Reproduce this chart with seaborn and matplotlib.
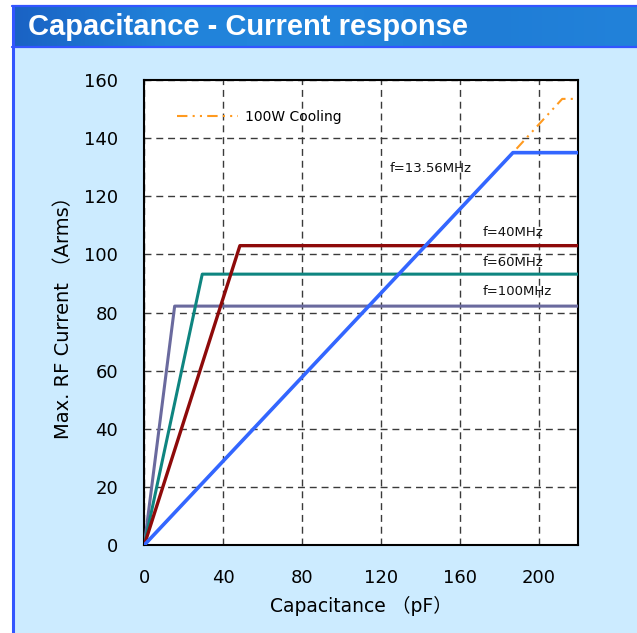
import numpy as np
import pandas as pd
import matplotlib
matplotlib.use("Agg")
import matplotlib.pyplot as plt
import seaborn as sns
from matplotlib.patches import Rectangle
from matplotlib.colors import LinearSegmentedColormap

# ---- data ----
cap_cooling = [0, 187, 212, 220]
cur_cooling = [0, 135, 153.5, 153.5]
cap_1356 = [0, 187, 220]
cur_1356 = [0, 135, 135]
cap_40 = [0, 48.5, 220]
cur_40 = [0, 103, 103]
cap_60 = [0, 29.4, 220]
cur_60 = [0, 93.2, 93.2]
cap_100 = [0, 15.4, 220]
cur_100 = [0, 82.2, 82.2]

series_labels = ["f=13.56MHz", "f=40MHz", "f=60MHz", "f=100MHz"]
label_x = [124.4, 171.6, 171.6, 171.6]
label_y = [129.4, 107.5, 97.2, 87.2]
legend_label = "100W Cooling"
x_ticks = [0, 40, 80, 120, 160, 200]
y_ticks = [0, 20, 40, 60, 80, 100, 120, 140, 160]
title = "Capacitance - Current response"
x_label = "Capacitance （pF）"
y_label = "Max. RF Current （Arms）"

sns.set_style("white")
plt.rcParams['font.family'] = ['DejaVu Sans', 'Noto Sans CJK JP']
plt.rcParams['text.color'] = 'black'
plt.rcParams['axes.labelcolor'] = 'black'

W, H = 637, 633
fig = plt.figure(figsize=(W / 100, H / 100), dpi=100)
fig.patch.set_facecolor("white")

# ---- background decoration ----
bg = fig.add_axes([0, 0, 1, 1], zorder=-10)
bg.axis("off")
bg.add_patch(Rectangle((13, 47), W - 13, H - 47, facecolor="#CCEBFF", edgecolor="none"))
cmap = LinearSegmentedColormap.from_list("hdr", ["#1A62C4", "#2183DA", "#2385DC", "#1F7DD6", "#2282DA"])
grad = np.linspace(0, 1, 256).reshape(1, -1)
bg.imshow(grad, extent=[13, W, 46, 6], cmap=cmap, aspect="auto", zorder=1)
bg.plot([13, 13], [5, H], color="#3355FF", lw=2.2, zorder=3, solid_capstyle="butt")
bg.plot([12, W], [5.5, 5.5], color="#3355FF", lw=1.6, zorder=3)
bg.plot([12, W], [46.5, 46.5], color="#3355FF", lw=1.6, zorder=3)
bg.set_xlim(0, W)
bg.set_ylim(H, 0)

fig.text(28 / W, 1 - 35 / H, title, color="white", fontsize=21, fontweight="bold",
         family=["Liberation Sans", "DejaVu Sans"], ha="left", va="baseline")

# ---- main axes ----
ax = fig.add_axes([144.3 / W, 1 - 545 / H, (578 - 144.3) / W, (545 - 80) / H])
ax.set_facecolor("white")

df_cool = pd.DataFrame({"cap": cap_cooling, "cur": cur_cooling})
sns.lineplot(data=df_cool, x="cap", y="cur", sort=False, estimator=None, ax=ax,
             color="#FF9A1F", lw=1.5, linestyle=(0, (5, 2.5, 1, 2.5, 1, 2.5)),
             label=legend_label, zorder=3)

styles = [
    (cap_100, cur_100, "#6A6A9E", 2.2),
    (cap_60, cur_60, "#0E8580", 2.2),
    (cap_40, cur_40, "#8E0A0A", 2.4),
    (cap_1356, cur_1356, "#3366FF", 2.6),
]
for cx, cy, col, lw in styles:
    d = pd.DataFrame({"cap": cx, "cur": cy})
    sns.lineplot(data=d, x="cap", y="cur", sort=False, estimator=None, ax=ax,
                 color=col, lw=lw, zorder=4)

for t, lx, ly in zip(series_labels, label_x, label_y):
    ax.text(lx, ly, t, fontsize=9.5, ha="left", va="center", color="#111111", zorder=6)

ax.set_xlim(0, 220)
ax.set_ylim(0, 160)
ax.set_xticks(x_ticks)
ax.set_yticks(y_ticks)
ax.grid(True, color="#3a3a3a", lw=1.0, linestyle=(0, (5, 3.5)))
ax.set_axisbelow(True)
for s in ax.spines.values():
    s.set_color("black")
    s.set_linewidth(1.5)
ax.tick_params(axis="both", length=0, labelsize=13, colors="black")
ax.tick_params(axis="x", pad=17)
ax.tick_params(axis="y", pad=19)
ax.set_xlabel(x_label, fontsize=13.5, labelpad=7)
ax.set_ylabel(y_label, fontsize=14, labelpad=8)

leg = ax.legend(loc="center left", bbox_to_anchor=(0.075, 0.921), frameon=False,
                fontsize=10, handlelength=4.4, handletextpad=0.5, borderpad=0,
                borderaxespad=0)

fig.savefig("out.png", dpi=100)
